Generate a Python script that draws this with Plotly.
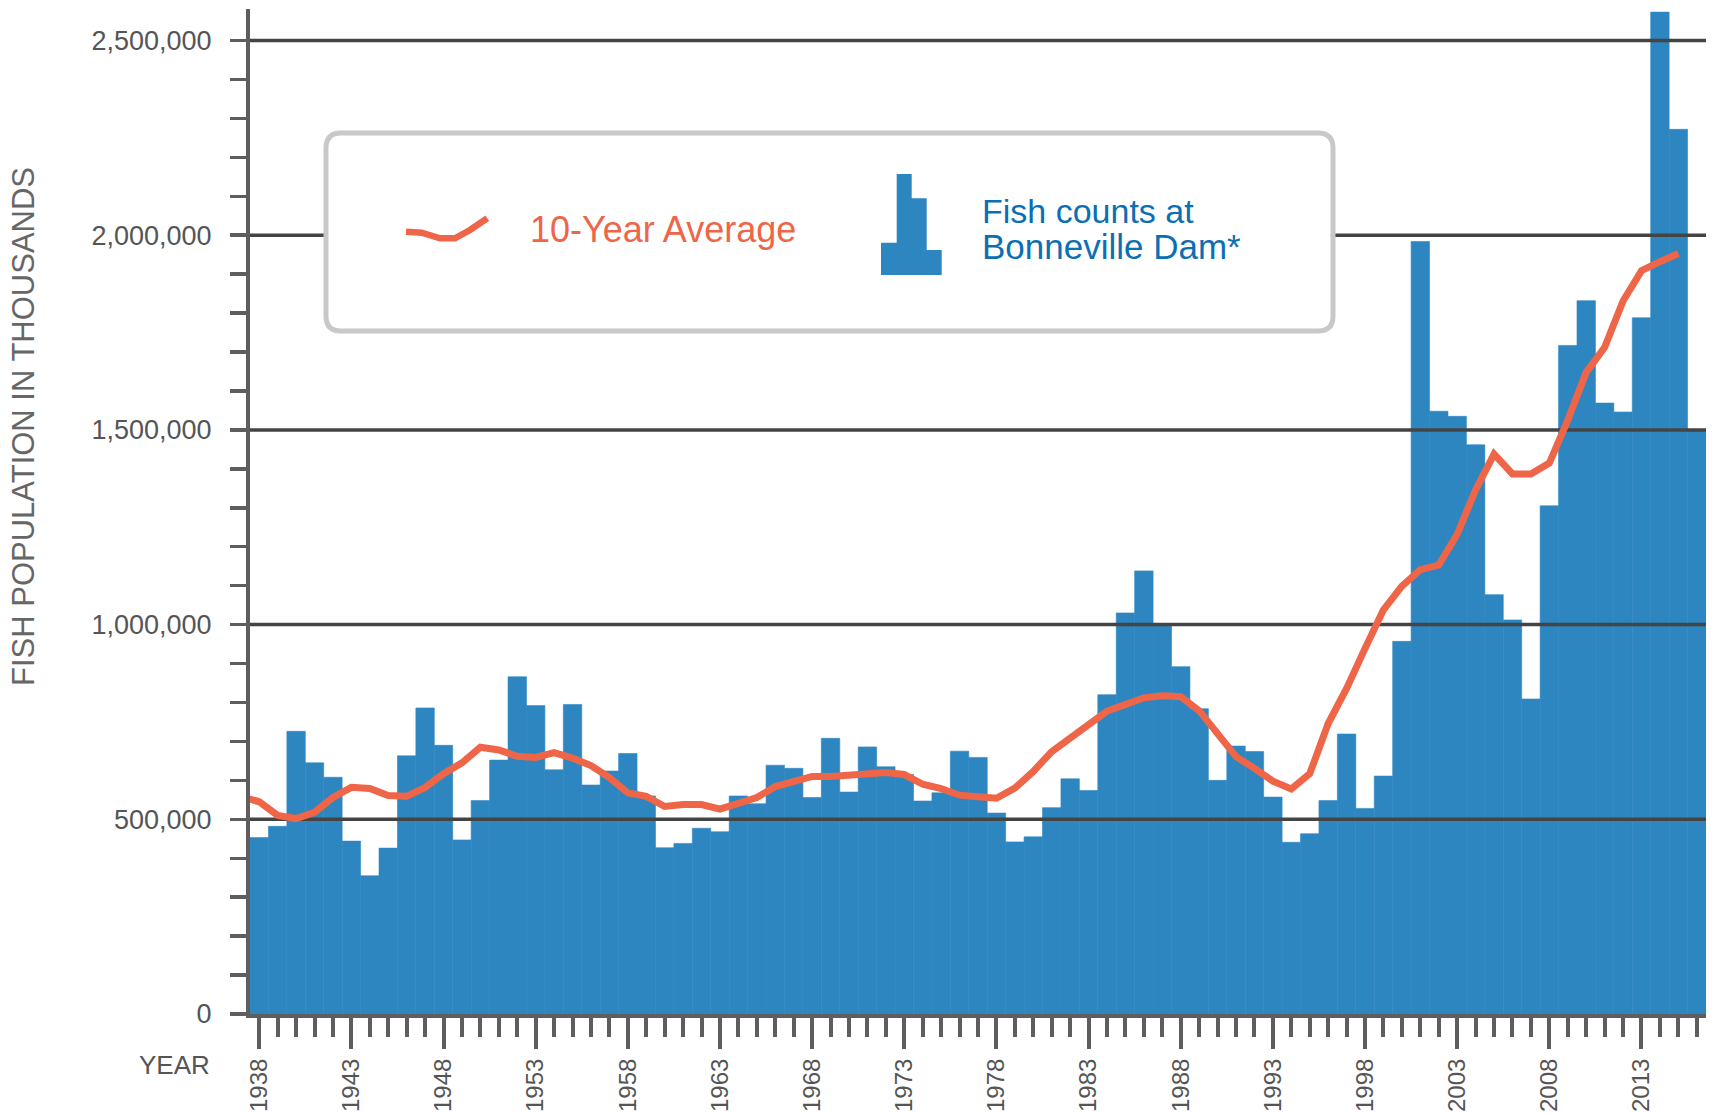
import plotly.graph_objects as go

# ---------------- data ----------------
years = list(range(1938, 2017))
fish_counts = [
    453000, 482000, 726000, 645000, 608000, 444000, 355000, 426000, 663000, 786000,
    690000, 447000, 548000, 652000, 866000, 792000, 627000, 795000, 588000, 624000,
    669000, 560000, 427000, 438000, 477000, 468000, 560000, 540000, 639000, 631000,
    556000, 708000, 570000, 686000, 635000, 615000, 547000, 568000, 675000, 659000,
    516000, 442000, 455000, 530000, 604000, 574000, 820000, 1030000, 1138000, 1000000,
    892000, 784000, 600000, 688000, 674000, 557000, 441000, 463000, 548000, 719000,
    528000, 611000, 957000, 1984000, 1548000, 1535000, 1462000, 1077000, 1012000, 809000,
    1305000, 1717000, 1832000, 1569000, 1546000, 1788000, 2573000, 2272000, 1500000,
]

avg_years = list(range(1937, 2016))
ten_year_avg = [
    559000, 545000, 510000, 502000, 518000, 556000, 582000, 579000, 561000, 559000,
    582000, 617000, 645000, 685000, 678000, 662000, 659000, 671000, 657000, 638000,
    607000, 568000, 559000, 533000, 538000, 538000, 526000, 543000, 556000, 584000,
    599000, 610000, 610000, 613000, 616000, 620000, 615000, 590000, 579000, 562000,
    558000, 554000, 580000, 623000, 674000, 708000, 742000, 778000, 795000, 812000,
    817000, 815000, 779000, 719000, 661000, 631000, 598000, 578000, 617000, 746000,
    836000, 939000, 1038000, 1099000, 1141000, 1153000, 1232000, 1346000, 1438000, 1387000,
    1387000, 1415000, 1525000, 1648000, 1712000, 1831000, 1909000, 1932000, 1953000,
]

y_tick_vals = [0, 500000, 1000000, 1500000, 2000000, 2500000]
y_tick_text = ["0", "500,000", "1,000,000", "1,500,000", "2,000,000", "2,500,000"]

legend_line_label = "10-Year Average"
legend_bar_label_1 = "Fish counts at"
legend_bar_label_2 = "Bonneville Dam*"
y_title = "FISH POPULATION IN THOUSANDS"
x_title = "YEAR"

# ---------------- style ----------------
W, H = 1717, 1113
ML, MR, MT, MB = 250, 11, 9, 99
PW, PH = W - ML - MR, H - MT - MB
BAR_COLOR = "#2e86c1"
LINE_COLOR = "#ef6547"
GRID_COLOR = "#444444"
AXIS_COLOR = "#5e5e5e"
TEXT_GRAY = "#555555"
BLUE_TEXT = "#0b6fb3"
FONT = "Liberation Sans, Arial, Helvetica, sans-serif"


def px(xp, yp):
    """pixel position on the page -> paper coordinates"""
    return (xp - ML) / PW, (H - MB - yp) / PH


x_lo = years[0] - 0.5
x_hi = years[-1] + 0.5

fig = go.Figure()

fig.add_trace(go.Bar(
    x=years, y=fish_counts, width=1.0,
    marker=dict(color=BAR_COLOR, line=dict(color=BAR_COLOR, width=0.6)),
    hoverinfo="x+y", showlegend=False,
))

# gridlines drawn above the bars (as in the reference)
gx, gy = [], []
for v in y_tick_vals[1:]:
    gx += [x_lo, x_hi, None]
    gy += [v, v, None]
fig.add_trace(go.Scatter(
    x=gx, y=gy, mode="lines", line=dict(color=GRID_COLOR, width=3.5),
    hoverinfo="skip", showlegend=False,
))

fig.add_trace(go.Scatter(
    x=avg_years, y=ten_year_avg, mode="lines",
    line=dict(color=LINE_COLOR, width=7, shape="linear"),
    showlegend=False,
))

# ---------------- legend box ----------------
bx0, by0 = px(326, 133)
bx1, by1 = px(1333, 331)
r = 15
rx, ry = r / PW, r / PH
box_path = (
    f"M {bx0+rx},{by0} L {bx1-rx},{by0} Q {bx1},{by0} {bx1},{by0-ry} "
    f"L {bx1},{by1+ry} Q {bx1},{by1} {bx1-rx},{by1} "
    f"L {bx0+rx},{by1} Q {bx0},{by1} {bx0},{by1+ry} "
    f"L {bx0},{by0-ry} Q {bx0},{by0} {bx0+rx},{by0} Z"
)
shapes = [dict(type="path", xref="paper", yref="paper", path=box_path,
               fillcolor="white", line=dict(color="#c8c8c8", width=5), layer="above")]

squiggle = [(406, 231.7), (421.7, 232.7), (440, 238.3), (455, 238.3), (470, 230), (487.3, 218.3)]
sp = "M " + " L ".join(f"{px(a, b)[0]},{px(a, b)[1]}" for a, b in squiggle)
shapes.append(dict(type="path", xref="paper", yref="paper", path=sp,
                   line=dict(color=LINE_COLOR, width=6.5), layer="above"))

icon = [(881, 275), (881, 242.7), (896.7, 242.7), (896.7, 174), (911.7, 174), (911.7, 198.3),
        (926.7, 198.3), (926.7, 250), (941.7, 250), (941.7, 275)]
ip = "M " + " L ".join(f"{px(a, b)[0]},{px(a, b)[1]}" for a, b in icon) + " Z"
shapes.append(dict(type="path", xref="paper", yref="paper", path=ip,
                   fillcolor=BAR_COLOR, line=dict(width=0), layer="above"))

annotations = []
ax, ay = px(528, 229)
annotations.append(dict(xref="paper", yref="paper", x=ax, y=ay, xanchor="left", yanchor="middle",
                        text=legend_line_label, showarrow=False,
                        font=dict(family=FONT, size=36, color=LINE_COLOR)))
ax, ay = px(980, 211)
annotations.append(dict(xref="paper", yref="paper", x=ax, y=ay, xanchor="left", yanchor="middle",
                        text=legend_bar_label_1, showarrow=False, align="left",
                        font=dict(family=FONT, size=34, color=BLUE_TEXT)))
ax, ay = px(980, 247)
annotations.append(dict(xref="paper", yref="paper", x=ax, y=ay, xanchor="left", yanchor="middle",
                        text=legend_bar_label_2, showarrow=False, align="left",
                        font=dict(family=FONT, size=35, color=BLUE_TEXT)))
ax, ay = px(212, 1065)
annotations.append(dict(xref="paper", yref="paper", x=ax, y=ay, xanchor="right", yanchor="middle",
                        text=x_title, showarrow=False,
                        font=dict(family=FONT, size=26, color=TEXT_GRAY)))
ax, ay = px(23, 427)
annotations.append(dict(xref="paper", yref="paper", x=ax, y=ay, xanchor="center", yanchor="middle",
                        text=y_title, showarrow=False, textangle=-90,
                        font=dict(family=FONT, size=31, color="#666666")))

fig.update_layout(
    width=W, height=H,
    margin=dict(l=ML, r=MR, t=MT, b=MB, pad=0, autoexpand=False),
    plot_bgcolor="white", paper_bgcolor="white",
    bargap=0, showlegend=False, hovermode=False,
    shapes=shapes, annotations=annotations,
    font=dict(family=FONT, color=TEXT_GRAY),
    xaxis=dict(
        range=[x_lo, x_hi], showgrid=False, zeroline=False, automargin=False,
        showline=True, linecolor=AXIS_COLOR, linewidth=4,
        tickmode="linear", tick0=years[0], dtick=5,
        ticks="outside", ticklen=31, tickwidth=4, tickcolor=AXIS_COLOR,
        tickangle=-90, tickfont=dict(family=FONT, size=24, color=TEXT_GRAY),
        minor=dict(tickmode="linear", tick0=years[0], dtick=1, ticks="outside",
                   ticklen=19, tickwidth=4, tickcolor=AXIS_COLOR, showgrid=False),
    ),
    yaxis=dict(
        range=[0, 2581000], showgrid=False, zeroline=False, automargin=False,
        showline=True, linecolor=AXIS_COLOR, linewidth=4,
        tickmode="array", tickvals=y_tick_vals, ticktext=y_tick_text,
        ticks="outside", ticklen=29, tickwidth=1, tickcolor="rgba(0,0,0,0)",
        tickfont=dict(family=FONT, size=27, color=TEXT_GRAY),
        minor=dict(tickmode="linear", tick0=0, dtick=100000, ticks="outside",
                   ticklen=16, tickwidth=3.5, tickcolor=AXIS_COLOR, showgrid=False),
    ),
)

fig.write_html(
    "out.html",
    config={"displayModeBar": False, "staticPlot": True},
    post_script="document.body.style.margin='0';document.body.style.padding='0';",
)
